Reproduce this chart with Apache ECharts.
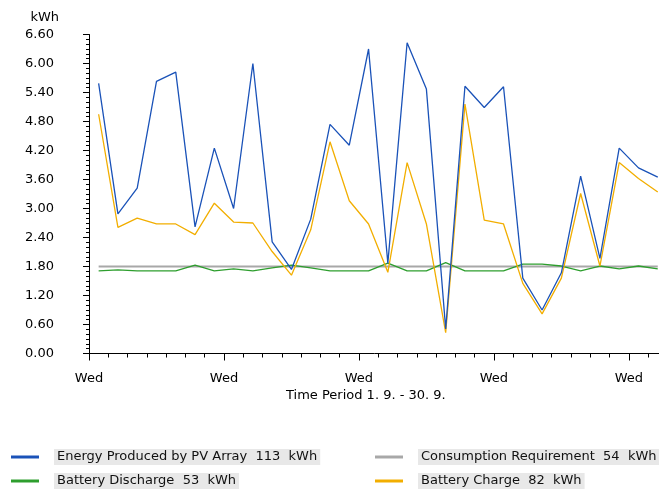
<!DOCTYPE html>
<html>
<head>
<meta charset="utf-8">
<script src="https://cdn.jsdelivr.net/npm/echarts@6/dist/echarts.min.js"></script>
<style>html,body{margin:0;padding:0;background:#fff;}#c{width:659px;height:492px;}</style>
</head>
<body>
<div id="c"></div>
<script>
// Days of September (1..30)
const days = [1,2,3,4,5,6,7,8,9,10,11,12,13,14,15,16,17,18,19,20,21,22,23,24,25,26,27,28,29,30];
const xTickLabels = ['Wed','Wed','Wed','Wed','Wed'];
const seriesNames = [
  'Energy Produced by PV Array  113  kWh',
  'Consumption Requirement  54  kWh',
  'Battery Discharge  53  kWh',
  'Battery Charge  82  kWh'
];
const pvArray = [5.59,2.89,3.42,5.63,5.82,2.62,4.25,3.00,6.00,2.31,1.74,2.78,4.74,4.31,6.30,1.87,6.43,5.47,0.51,5.53,5.09,5.52,1.56,0.90,1.67,3.67,1.97,4.25,3.84,3.65];
const consumption = [1.80,1.80,1.80,1.80,1.80,1.80,1.80,1.80,1.80,1.80,1.80,1.80,1.80,1.80,1.80,1.80,1.80,1.80,1.80,1.80,1.80,1.80,1.80,1.80,1.80,1.80,1.80,1.80,1.80,1.80];
const discharge = [1.71,1.73,1.71,1.71,1.71,1.83,1.71,1.75,1.71,1.77,1.83,1.77,1.71,1.71,1.71,1.87,1.71,1.71,1.88,1.71,1.71,1.71,1.85,1.85,1.81,1.71,1.81,1.75,1.81,1.75];
const charge = [4.95,2.61,2.80,2.68,2.68,2.46,3.11,2.72,2.70,2.11,1.62,2.56,4.38,3.16,2.68,1.68,3.95,2.68,0.43,5.16,2.76,2.68,1.45,0.82,1.56,3.31,1.81,3.95,3.62,3.34];
const colors = ['#1a52b8','#a8a8a8','#2e9e2e','#f2ae00'];

const FONT = 'DejaVu Sans';
const pts = arr => arr.map((v,i) => [days[i] - 0.5, v]);

const chart = echarts.init(document.getElementById('c'), null, {renderer:'canvas'});
const legendText = {
  fontFamily: FONT, fontSize: 13, color: '#111',
  rich: {
    g: {width: 10, fontFamily: FONT, fontSize: 13},
    t: {backgroundColor: '#e8e8e8', padding: [0,3,0,3], lineHeight: 16, height: 16, fontFamily: FONT, fontSize: 13, color: '#111'}
  }
};
const legendBase = {
  orient: 'vertical', padding: 0, itemGap: 8, itemWidth: 28, itemHeight: 3,
  icon: 'rect', textStyle: legendText, formatter: n => '{g|}{t|' + n + '}',
  selectedMode: false
};
chart.setOption({
  animation: false,
  backgroundColor: '#fff',
  textStyle: {fontFamily: FONT},
  title: {
    text: 'Time Period 1. 9. - 30. 9.', left: 286, top: 389, padding: 0,
    textStyle: {fontFamily: FONT, fontSize: 13, fontWeight: 'normal', color: '#000'}
  },
  legend: [
    Object.assign({}, legendBase, {left: 11, top: 449, data: [seriesNames[0], seriesNames[2]]}),
    Object.assign({}, legendBase, {left: 375, top: 449, data: [seriesNames[1], seriesNames[3]]})
  ],
  grid: {left: 89, top: 34.5, height: 319, width: 35 * 19.28, containLabel: false, outerBoundsMode: 'none'},
  xAxis: {
    type: 'value', min: 0, max: 35, interval: 7,
    axisLine: {show: true, lineStyle: {color: '#000', width: 1}},
    axisTick: {show: true, length: 7, lineStyle: {color: '#000'}},
    minorTick: {show: true, splitNumber: 7, length: 4, lineStyle: {color: '#000'}},
    splitLine: {show: false},
    axisLabel: {
      margin: 19, fontFamily: FONT, fontSize: 13, color: '#000',
      formatter: v => (v % 7 === 0 && v / 7 < xTickLabels.length) ? xTickLabels[v / 7] : ''
    }
  },
  yAxis: {
    type: 'value', min: 0, max: 6.6, interval: 0.6,
    name: 'kWh', nameLocation: 'end', nameGap: 17,
    nameTextStyle: {fontFamily: FONT, fontSize: 13, color: '#000', align: 'right', verticalAlign: 'middle', padding: [0,30,0,0]},
    axisLine: {show: true, lineStyle: {color: '#000', width: 1}},
    axisTick: {show: true, length: 6, lineStyle: {color: '#000'}},
    minorTick: {show: true, splitNumber: 6, length: 3, lineStyle: {color: '#000'}},
    splitLine: {show: false},
    axisLabel: {margin: 35, fontFamily: FONT, fontSize: 13, color: '#000', formatter: v => v.toFixed(2)}
  },
  series: [
    {name: seriesNames[1], type: 'line', data: pts(consumption), showSymbol: false, lineStyle: {width: 2, color: colors[1]}, itemStyle: {color: colors[1]}, z: 1},
    {name: seriesNames[2], type: 'line', data: pts(discharge), showSymbol: false, lineStyle: {width: 1.3, color: colors[2]}, itemStyle: {color: colors[2]}, z: 2},
    {name: seriesNames[3], type: 'line', data: pts(charge), showSymbol: false, lineStyle: {width: 1.3, color: colors[3]}, itemStyle: {color: colors[3]}, z: 3},
    {name: seriesNames[0], type: 'line', data: pts(pvArray), showSymbol: false, lineStyle: {width: 1.3, color: colors[0]}, itemStyle: {color: colors[0]}, z: 4}
  ]
});
</script>
</body>
</html>
